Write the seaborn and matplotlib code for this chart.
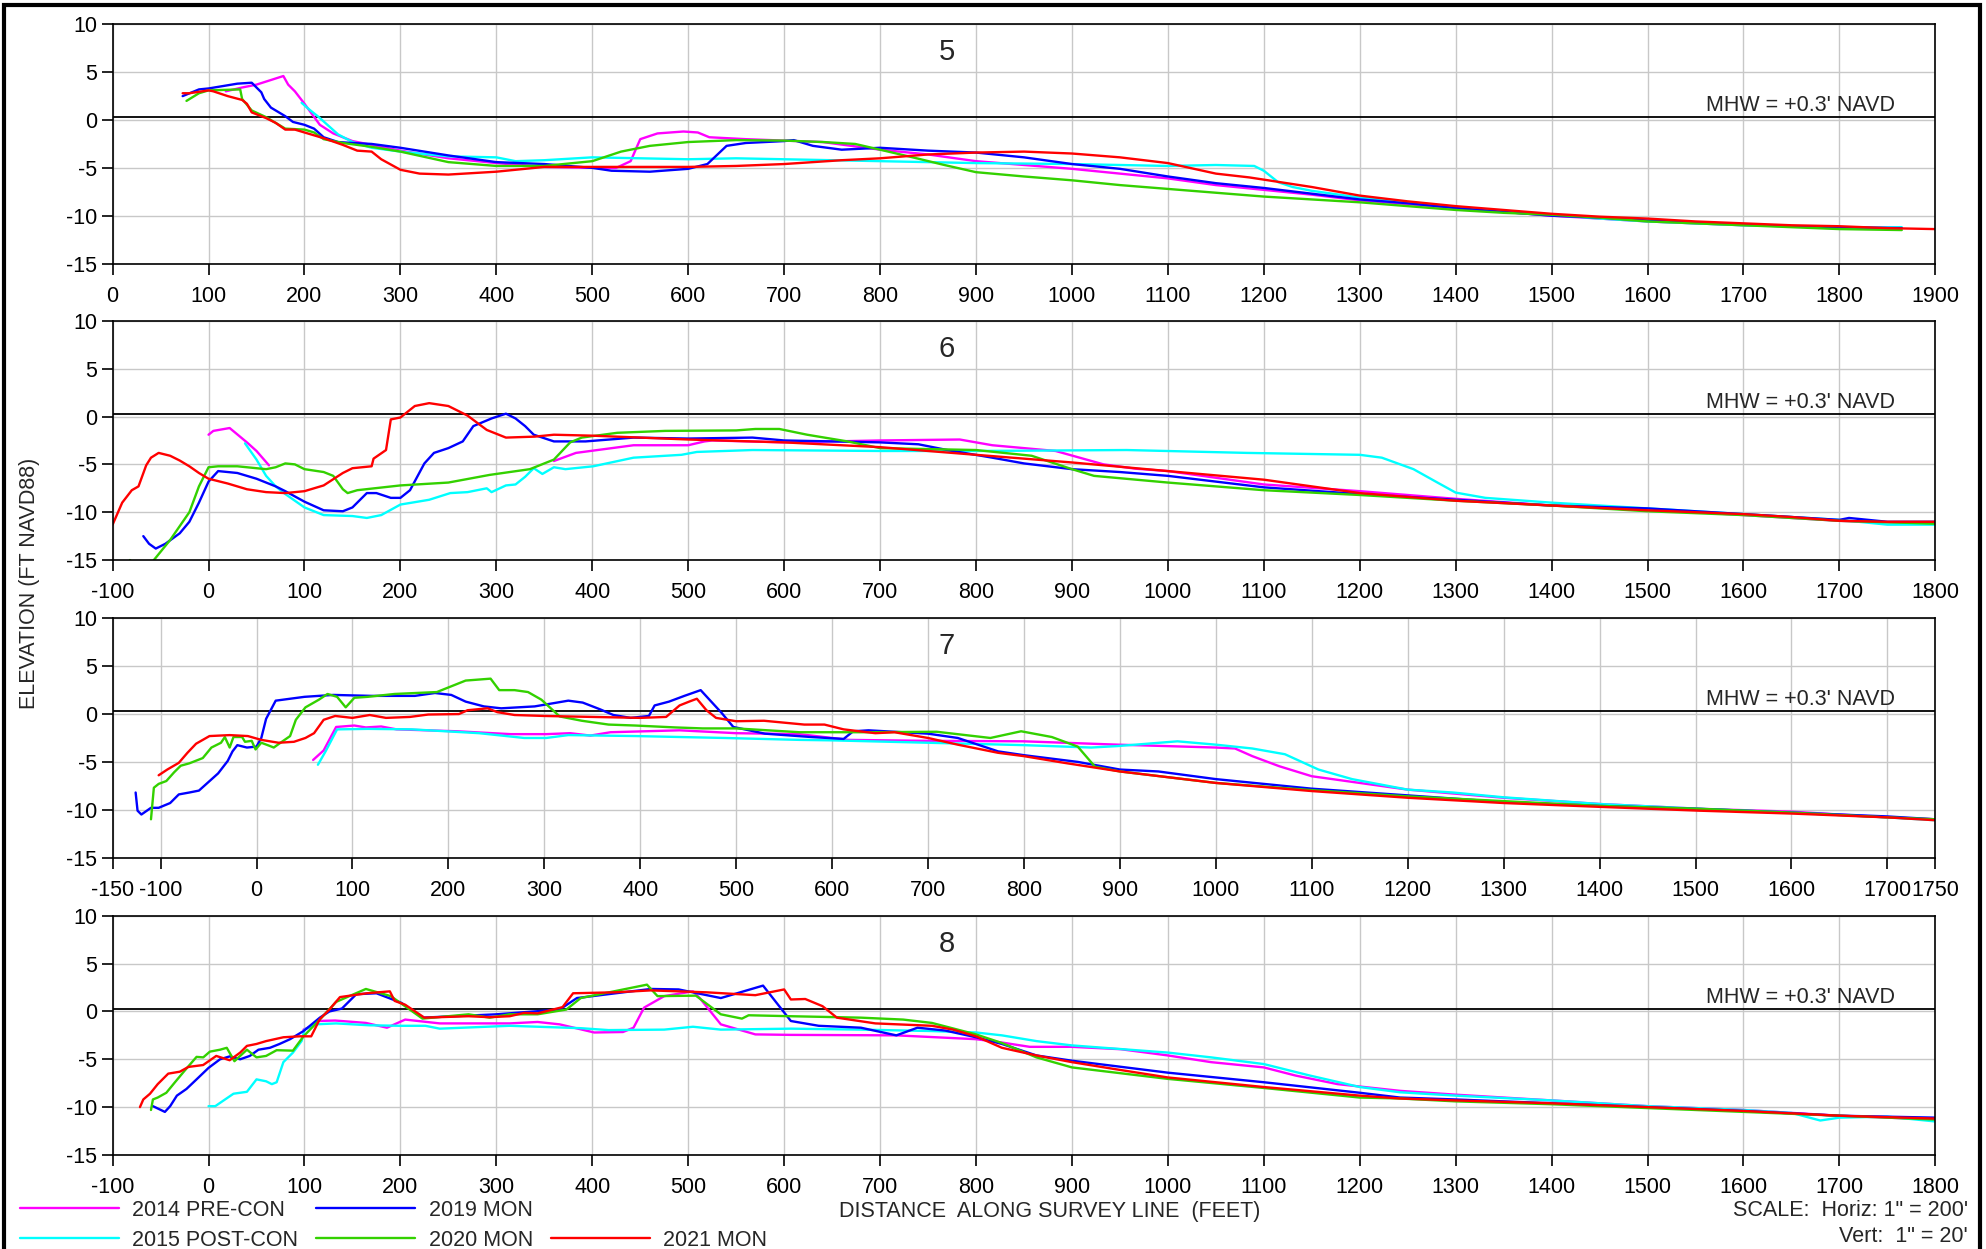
import numpy as np
import pandas as pd
import matplotlib
matplotlib.use("Agg")
import matplotlib.pyplot as plt
from matplotlib.lines import Line2D
from matplotlib.patches import Rectangle
import seaborn as sns

# survey names and colours
surveys = ["2014 PRE-CON", "2015 POST-CON", "2019 MON", "2020 MON", "2021 MON"]
colors = ["#ff00ff", "#00ffff", "#0000ff", "#33d100", "#ff0000"]

# ---------------- profile 5 ----------------
p5_2014 = [[(118, 3.0), (135, 3.4), (150, 3.7), (178, 4.6), (183, 3.7), (190, 3.0), (200, 1.7), (208, 0.6),
            (216, -0.5), (230, -1.4), (250, -2.2), (270, -2.6), (300, -3.2), (350, -4.0), (400, -4.5),
            (450, -4.9), (500, -5.0), (525, -5.0), (540, -4.3), (550, -2.0), (568, -1.4), (595, -1.2),
            (610, -1.3), (622, -1.8), (660, -2.0), (700, -2.15), (740, -2.3), (800, -3.1), (850, -3.6),
            (900, -4.3), (950, -4.7), (1000, -5.1), (1050, -5.6), (1100, -6.1), (1150, -6.8), (1200, -7.3),
            (1250, -7.8), (1300, -8.4), (1350, -8.8), (1400, -9.2), (1450, -9.6), (1500, -10.0),
            (1550, -10.3), (1600, -10.6), (1650, -10.8), (1700, -11.0), (1750, -11.1), (1800, -11.3),
            (1865, -11.3)]]
p5_2015 = [[(197, 1.8), (205, 1.1), (215, 0.3), (225, -0.6), (235, -1.5), (250, -2.3), (270, -2.9),
            (300, -3.3), (350, -3.8), (400, -3.9), (420, -4.3), (450, -4.2), (500, -3.9), (550, -4.0),
            (600, -4.1), (650, -4.0), (700, -4.1), (800, -4.3), (900, -4.5), (1000, -4.6), (1100, -4.8),
            (1150, -4.7), (1190, -4.8), (1200, -5.3), (1215, -6.5), (1230, -7.0), (1250, -7.4),
            (1300, -8.1), (1350, -8.6), (1400, -9.1), (1450, -9.5), (1500, -9.9), (1550, -10.3),
            (1600, -10.6), (1650, -10.8), (1700, -11.0), (1750, -11.1), (1800, -11.3), (1865, -11.2)]]
p5_2019 = [[(73, 2.5), (90, 3.2), (100, 3.3), (130, 3.8), (145, 3.9), (155, 2.9), (158, 2.2), (165, 1.3),
            (180, 0.4), (188, -0.2), (200, -0.5), (210, -0.9), (220, -1.8), (235, -2.3), (250, -2.4),
            (270, -2.5), (300, -2.9), (350, -3.7), (400, -4.4), (450, -4.6), (500, -5.0), (520, -5.3),
            (560, -5.4), (600, -5.1), (620, -4.6), (640, -2.7), (660, -2.4), (700, -2.2), (710, -2.1),
            (730, -2.7), (760, -3.1), (800, -2.9), (850, -3.2), (900, -3.4), (950, -3.9), (1000, -4.6),
            (1050, -5.1), (1100, -5.9), (1150, -6.6), (1200, -7.1), (1250, -7.7), (1300, -8.3),
            (1350, -8.7), (1400, -9.2), (1450, -9.6), (1500, -10.0), (1550, -10.2), (1600, -10.5),
            (1650, -10.7), (1700, -10.9), (1750, -11.1), (1800, -11.2), (1865, -11.3)]]
p5_2020 = [[(77, 2.0), (90, 2.8), (100, 3.1), (133, 3.2), (135, 2.2), (145, 1.0), (160, 0.3), (175, -0.6),
            (180, -0.9), (200, -1.0), (210, -1.3), (220, -2.0), (240, -2.4), (270, -2.8), (300, -3.3),
            (350, -4.4), (400, -4.8), (450, -4.8), (500, -4.3), (530, -3.3), (560, -2.7), (600, -2.3),
            (650, -2.1), (700, -2.15), (741, -2.3), (774, -2.5), (800, -3.1), (834, -3.9), (867, -4.7),
            (900, -5.45), (950, -5.9), (1000, -6.3), (1050, -6.8), (1100, -7.2), (1150, -7.6),
            (1200, -8.0), (1250, -8.3), (1300, -8.6), (1350, -9.0), (1400, -9.4), (1450, -9.7),
            (1500, -9.9), (1550, -10.2), (1600, -10.6), (1650, -10.8), (1700, -11.0), (1750, -11.2),
            (1800, -11.4), (1865, -11.5)]]
p5_2021 = [[(73, 2.8), (80, 2.8), (100, 3.1), (105, 3.0), (120, 2.5), (135, 2.1), (140, 1.7), (145, 0.8),
            (160, 0.2), (170, -0.3), (180, -1.0), (190, -1.0), (200, -1.3), (220, -1.9), (240, -2.6),
            (255, -3.2), (270, -3.3), (280, -4.1), (300, -5.2), (320, -5.6), (350, -5.7), (400, -5.4),
            (450, -4.9), (500, -4.9), (550, -4.9), (600, -4.9), (650, -4.8), (700, -4.6), (730, -4.4),
            (760, -4.2), (800, -4.0), (850, -3.6), (900, -3.4), (950, -3.3), (1000, -3.5), (1050, -3.9),
            (1100, -4.5), (1150, -5.6), (1185, -6.0), (1250, -7.0), (1300, -7.9), (1350, -8.5),
            (1400, -9.0), (1450, -9.4), (1500, -9.8), (1550, -10.1), (1600, -10.3), (1650, -10.6),
            (1700, -10.8), (1750, -11.0), (1800, -11.1), (1850, -11.3), (1900, -11.4)]]

# ---------------- profile 6 ----------------
p6_2014 = [[(0, -1.9), (5, -1.5), (22, -1.2), (40, -2.7), (50, -3.6), (63, -5.1)],
           [(360, -4.65), (383, -3.8), (443, -3.0), (500, -3.0), (517, -2.6), (525, -2.5), (600, -2.7),
            (700, -2.5), (783, -2.4), (817, -3.0), (883, -3.6), (933, -5.0), (966, -5.45), (1000, -5.7),
            (1100, -7.1), (1200, -7.8), (1300, -8.6), (1400, -9.3), (1500, -9.7), (1600, -10.3),
            (1700, -10.9), (1800, -11.2)]]
p6_2015 = [[(38, -2.8), (50, -4.5), (60, -6.2), (70, -7.3), (80, -8.1), (100, -9.5), (120, -10.3),
            (150, -10.4), (165, -10.6), (180, -10.3), (200, -9.2), (230, -8.7), (252, -8.0), (270, -7.9),
            (290, -7.5), (295, -7.9), (310, -7.2), (320, -7.1), (330, -6.3), (339, -5.4), (348, -6.0),
            (360, -5.3), (372, -5.5), (401, -5.2), (443, -4.3), (493, -4.0), (509, -3.7), (567, -3.5),
            (700, -3.6), (800, -3.6), (957, -3.5), (1082, -3.8), (1200, -4.0), (1223, -4.3), (1256, -5.5),
            (1281, -6.9), (1300, -7.95), (1331, -8.5), (1400, -9.0), (1500, -9.6), (1600, -10.2),
            (1700, -10.8), (1750, -11.3), (1800, -11.3)]]
p6_2019 = [[(-68, -12.5), (-62, -13.3), (-55, -13.8), (-45, -13.3), (-30, -12.2), (-20, -11.0), (-10, -9.0),
            (0, -6.8), (10, -5.7), (30, -5.9), (50, -6.5), (70, -7.3), (80, -7.8), (100, -8.9), (120, -9.8),
            (140, -9.9), (150, -9.5), (165, -8.0), (175, -8.0), (190, -8.5), (200, -8.5), (210, -7.7),
            (225, -4.9), (235, -3.8), (250, -3.3), (265, -2.6), (276, -1.0), (295, -0.2), (310, 0.3),
            (320, -0.2), (330, -1.0), (339, -1.9), (360, -2.6), (393, -2.6), (443, -2.2), (500, -2.3),
            (567, -2.2), (600, -2.5), (700, -2.7), (740, -2.9), (770, -3.5), (817, -4.3), (850, -4.9),
            (900, -5.5), (950, -5.8), (1000, -6.2), (1100, -7.4), (1200, -8.1), (1300, -8.7), (1400, -9.3),
            (1500, -9.6), (1600, -10.2), (1650, -10.5), (1700, -10.8), (1710, -10.6), (1750, -11.0),
            (1800, -11.0)]]
p6_2020 = [[(-82, -15.0), (-78, -15.4), (-60, -15.5), (-57, -15.0), (-40, -12.9), (-20, -10.0), (-10, -7.3),
            (0, -5.3), (10, -5.2), (30, -5.2), (50, -5.4), (60, -5.5), (70, -5.3), (80, -4.9), (90, -5.0),
            (100, -5.5), (120, -5.8), (130, -6.2), (140, -7.6), (145, -8.0), (155, -7.7), (200, -7.2),
            (250, -6.9), (293, -6.1), (335, -5.5), (360, -4.5), (377, -2.7), (389, -2.2), (426, -1.7),
            (476, -1.5), (550, -1.45), (570, -1.3), (595, -1.3), (624, -1.9), (666, -2.6), (700, -3.3),
            (750, -3.4), (800, -3.5), (858, -4.1), (900, -5.5), (923, -6.2), (1000, -6.9), (1100, -7.7),
            (1200, -8.2), (1300, -8.8), (1400, -9.3), (1500, -9.9), (1600, -10.3), (1700, -10.9),
            (1800, -11.2)]]
p6_2021 = [[(-100, -11.3), (-90, -9.0), (-80, -7.7), (-73, -7.3), (-65, -5.1), (-60, -4.3), (-52, -3.8),
            (-40, -4.1), (-30, -4.6), (-20, -5.2), (-10, -5.9), (0, -6.5), (20, -7.0), (40, -7.6),
            (60, -7.9), (80, -8.0), (100, -7.8), (120, -7.2), (140, -5.9), (150, -5.4), (170, -5.2),
            (172, -4.4), (185, -3.5), (190, -0.3), (200, -0.1), (215, 1.1), (230, 1.4), (250, 1.1),
            (270, 0.1), (290, -1.4), (310, -2.2), (340, -2.1), (360, -1.9), (400, -2.0), (450, -2.2),
            (500, -2.4), (600, -2.7), (700, -3.2), (800, -4.0), (900, -4.8), (1000, -5.7), (1100, -6.6),
            (1200, -8.0), (1300, -8.8), (1400, -9.3), (1500, -9.8), (1550, -10.0), (1600, -10.2),
            (1650, -10.5), (1700, -10.9), (1750, -11.0), (1800, -11.0)]]

# ---------------- profile 7 ----------------
p7_2014 = [[(59, -4.8), (70, -3.8), (83, -1.35), (102, -1.2), (114, -1.4), (130, -1.3), (146, -1.6),
            (209, -1.8), (265, -2.1), (302, -2.1), (327, -2.0), (348, -2.25), (369, -1.9), (441, -1.7),
            (500, -2.0), (566, -2.1), (617, -2.7), (700, -2.8), (800, -2.85), (898, -3.2), (1000, -3.5),
            (1020, -3.6), (1038, -4.4), (1066, -5.45), (1100, -6.5), (1150, -7.2), (1200, -7.9),
            (1300, -8.75), (1400, -9.4), (1504, -9.9), (1600, -10.2), (1700, -10.8), (1750, -11.0)]]
p7_2015 = [[(64, -5.3), (72, -3.9), (84, -1.6), (116, -1.55), (162, -1.6), (232, -2.0), (279, -2.5),
            (302, -2.5), (325, -2.2), (395, -2.3), (488, -2.5), (566, -2.7), (600, -2.75), (700, -3.0),
            (800, -3.25), (870, -3.5), (897, -3.35), (960, -2.85), (1000, -3.2), (1038, -3.6),
            (1072, -4.2), (1107, -5.8), (1142, -6.8), (1200, -7.9), (1247, -8.2), (1300, -8.7),
            (1400, -9.4), (1504, -9.9), (1600, -10.3), (1700, -10.8), (1750, -11.1)]]
p7_2019 = [[(-126, -8.2), (-124, -10.1), (-120, -10.5), (-110, -9.8), (-102, -9.8), (-90, -9.3), (-81, -8.4),
            (-70, -8.2), (-60, -8.0), (-50, -7.1), (-40, -6.2), (-30, -4.9), (-25, -3.9), (-20, -3.25),
            (-10, -3.5), (0, -3.4), (5, -2.5), (10, -0.5), (20, 1.4), (50, 1.8), (80, 2.0), (120, 1.9),
            (165, 1.9), (186, 2.2), (203, 2.0), (218, 1.3), (237, 0.8), (255, 0.6), (290, 0.8), (325, 1.4),
            (340, 1.2), (358, 0.5), (372, -0.1), (390, -0.4), (409, -0.2), (415, 0.9), (430, 1.3),
            (446, 1.9), (463, 2.5), (485, 0.1), (497, -1.35), (530, -2.05), (578, -2.4), (612, -2.6),
            (622, -1.8), (638, -1.7), (700, -2.05), (731, -2.5), (773, -3.9), (800, -4.3), (856, -5.0),
            (900, -5.8), (940, -6.0), (1000, -6.8), (1100, -7.8), (1200, -8.5), (1300, -9.2), (1400, -9.6),
            (1500, -9.9), (1600, -10.3), (1700, -10.7), (1750, -11.0)]]
p7_2020 = [[(-110, -11.0), (-107, -7.7), (-102, -7.3), (-94, -7.0), (-86, -6.1), (-79, -5.4), (-70, -5.15),
            (-56, -4.6), (-47, -3.5), (-37, -3.0), (-33, -2.4), (-28, -3.5), (-24, -2.4), (-15, -2.4),
            (-12, -2.9), (-5, -2.8), (-1, -3.7), (5, -3.0), (13, -3.3), (18, -3.5), (25, -3.0), (35, -2.3),
            (41, -0.6), (51, 0.7), (65, 1.5), (74, 2.1), (84, 1.8), (93, 0.7), (102, 1.7), (116, 1.8),
            (144, 2.1), (188, 2.3), (218, 3.5), (244, 3.7), (253, 2.5), (269, 2.5), (283, 2.3), (297, 1.5),
            (316, -0.25), (339, -0.7), (367, -1.1), (395, -1.2), (437, -1.4), (465, -1.5), (500, -1.5),
            (566, -1.9), (638, -1.9), (709, -1.85), (765, -2.5), (797, -1.8), (829, -2.4), (856, -3.4),
            (874, -5.5), (900, -6.0), (1000, -7.2), (1100, -7.95), (1200, -8.6), (1300, -9.1),
            (1400, -9.6), (1504, -9.9), (1600, -10.3), (1700, -10.8), (1750, -11.0)]]
p7_2021 = [[(-102, -6.4), (-93, -5.8), (-81, -5.1), (-72, -4.05), (-63, -3.1), (-49, -2.3), (-28, -2.2),
            (-9, -2.3), (5, -2.7), (23, -3.0), (39, -2.9), (51, -2.5), (60, -2.0), (70, -0.6), (82, -0.2),
            (100, -0.4), (118, -0.1), (135, -0.4), (160, -0.3), (179, -0.05), (211, 0.0), (220, 0.4),
            (241, 0.6), (251, 0.2), (269, -0.1), (300, -0.2), (350, -0.3), (400, -0.4), (427, -0.3),
            (441, 0.9), (451, 1.3), (459, 1.6), (469, 0.4), (479, -0.4), (500, -0.75), (529, -0.7),
            (571, -1.1), (592, -1.1), (612, -1.6), (645, -2.0), (665, -1.9), (700, -2.5), (731, -3.2),
            (773, -4.05), (800, -4.4), (842, -5.1), (900, -6.0), (1000, -7.2), (1100, -8.05),
            (1200, -8.75), (1300, -9.3), (1400, -9.7), (1504, -10.1), (1600, -10.4), (1700, -10.8),
            (1750, -11.1)]]

# ---------------- profile 8 ----------------
p8_2014 = [[(99, -1.9), (106, -1.6), (113, -1.0), (132, -0.95), (164, -1.2), (186, -1.7), (205, -0.85),
            (241, -1.25), (314, -1.25), (343, -1.1), (366, -1.35), (402, -2.2), (432, -2.15), (443, -1.7),
            (454, 0.4), (475, 1.6), (505, 2.1), (512, 1.4), (534, -1.35), (570, -2.4), (607, -2.45),
            (717, -2.5), (800, -2.9), (827, -3.25), (856, -3.7), (900, -3.7), (951, -3.95), (1000, -4.6),
            (1045, -5.3), (1100, -5.85), (1133, -6.7), (1177, -7.6), (1242, -8.3), (1300, -8.7),
            (1400, -9.3), (1500, -9.9), (1600, -10.3), (1700, -10.9), (1800, -11.3)]]
p8_2015 = [[(0, -9.9), (7, -9.9), (26, -8.6), (40, -8.4), (50, -7.1), (60, -7.3), (66, -7.6), (71, -7.4),
            (78, -5.3), (88, -4.3), (97, -3.1), (100, -1.9), (111, -1.35), (133, -1.25), (168, -1.45),
            (200, -1.5), (226, -1.5), (241, -1.8), (314, -1.5), (388, -1.75), (417, -1.95), (475, -1.9),
            (505, -1.6), (534, -1.9), (607, -1.8), (680, -1.9), (754, -2.05), (800, -2.2), (827, -2.5),
            (863, -3.1), (900, -3.55), (1000, -4.3), (1045, -4.8), (1100, -5.5), (1148, -6.7),
            (1200, -7.9), (1242, -8.45), (1300, -8.8), (1400, -9.3), (1500, -9.9), (1600, -10.3),
            (1650, -10.6), (1680, -11.4), (1700, -11.1), (1750, -11.0), (1800, -11.5)]]
p8_2019 = [[(-58, -9.9), (-45.5, -10.5), (-40, -9.9), (-33, -8.8), (-23, -8.1), (-12.5, -7.1), (0, -5.9),
            (12, -5.0), (22, -4.7), (33, -5.0), (43, -4.65), (52, -4.0), (64, -3.8), (74, -3.4), (85, -2.9),
            (99, -2.05), (116, -0.65), (126, 0.0), (139, 0.3), (154, 1.8), (175, 1.9), (201, 0.9),
            (223, -0.65), (300, -0.3), (366, 0.2), (384, 1.4), (461, 2.35), (490, 2.3), (534, 1.4),
            (578, 2.7), (607, -1.0), (636, -1.5), (680, -1.7), (717, -2.5), (739, -1.7), (768, -2.0),
            (800, -2.7), (827, -3.4), (863, -4.6), (900, -5.15), (1000, -6.4), (1100, -7.4), (1200, -8.5),
            (1242, -9.0), (1300, -9.2), (1400, -9.6), (1500, -10.0), (1600, -10.4), (1700, -10.9),
            (1800, -11.1)]]
p8_2020 = [[(-60, -10.3), (-58, -9.2), (-53, -9.0), (-44, -8.5), (-35, -7.4), (-25, -6.2), (-12.5, -4.75),
            (-5.5, -4.8), (1.4, -4.2), (12, -4.0), (19, -3.8), (27, -5.2), (40, -4.0), (50, -4.8),
            (60, -4.65), (71, -4.05), (88, -4.1), (99, -2.6), (116, -0.85), (133, 1.0), (164, 2.35),
            (190, 1.6), (223, -0.75), (271, -0.3), (293, -0.65), (314, -0.3), (343, -0.3), (373, 0.2),
            (388, 1.4), (457, 2.8), (468, 1.6), (508, 1.65), (534, -0.3), (556, -0.75), (563, -0.4),
            (607, -0.5), (680, -0.65), (724, -0.85), (754, -1.2), (800, -2.4), (827, -3.3), (863, -4.8),
            (900, -5.85), (1000, -7.05), (1100, -8.0), (1200, -9.0), (1242, -9.1), (1300, -9.4),
            (1400, -9.7), (1500, -10.1), (1600, -10.5), (1700, -10.9), (1800, -11.3)]]
p8_2021 = [[(-71.5, -10.0), (-68, -9.2), (-61, -8.6), (-53, -7.6), (-42, -6.5), (-30, -6.3), (-21, -5.8),
            (-5.6, -5.6), (8, -4.65), (22, -5.1), (33, -4.3), (40, -3.6), (50, -3.4), (60, -3.1), (78, -2.7),
            (95, -2.6), (107, -2.6), (116, -0.8), (126, 0.2), (137, 1.5), (165, 1.9), (189, 2.1), (194, 1.1),
            (205, 0.7), (225, -0.65), (271, -0.5), (293, -0.6), (314, -0.5), (329, -0.15), (343, -0.2),
            (369, 0.45), (380, 1.9), (424, 2.0), (461, 2.2), (519, 2.0), (570, 1.7), (600, 2.3), (607, 1.25),
            (622, 1.3), (640, 0.55), (655, -0.65), (695, -1.25), (754, -1.5), (776, -1.9), (800, -2.6),
            (827, -3.8), (863, -4.6), (900, -5.3), (943, -6.0), (1000, -6.9), (1100, -7.9), (1200, -8.8),
            (1242, -9.1), (1300, -9.3), (1400, -9.6), (1500, -10.0), (1600, -10.4), (1700, -10.9),
            (1800, -11.2)]]

profile_names = ["5", "6", "7", "8"]
profile_data = [
    [p5_2014, p5_2015, p5_2019, p5_2020, p5_2021],
    [p6_2014, p6_2015, p6_2019, p6_2020, p6_2021],
    [p7_2014, p7_2015, p7_2019, p7_2020, p7_2021],
    [p8_2014, p8_2015, p8_2019, p8_2020, p8_2021],
]
x_limits = [(0, 1900), (-100, 1800), (-150, 1750), (-100, 1800)]
x_ticks = [list(range(0, 1901, 100)),
           list(range(-100, 1801, 100)),
           [-150] + list(range(-100, 1701, 100)) + [1750],
           list(range(-100, 1801, 100))]
y_ticks = [-15, -10, -5, 0, 5, 10]
mhw = 0.3


def to_frame(series_list):
    rows = []
    for name, segments in zip(surveys, series_list):
        for k, seg in enumerate(segments):
            for d, e in seg:
                rows.append({"survey": name, "seg": f"{name}-{k}", "dist": d, "elev": e})
    return pd.DataFrame(rows)


sns.set_theme(style="white")
plt.rcParams["font.family"] = ["Liberation Sans", "DejaVu Sans"]
plt.rcParams["axes.unicode_minus"] = False

fs = 15.5
fig = plt.figure(figsize=(19.86, 12.49), dpi=100)
palette = dict(zip(surveys, colors))

left, width = 0.0567, 0.9178
bottoms = [0.789, 0.5516, 0.3134, 0.0753]
height = 0.1915

for i in range(4):
    ax = fig.add_axes([left, bottoms[i], width, height])
    df = to_frame(profile_data[i])
    sns.lineplot(data=df, x="dist", y="elev", hue="survey", units="seg", estimator=None,
                 sort=False, palette=palette, hue_order=surveys, legend=False, lw=1.7, ax=ax)
    ax.axhline(mhw, color="black", lw=1.3, zorder=1.5)
    ax.set_xlim(*x_limits[i])
    ax.set_ylim(-15, 10)
    ax.set_xticks(x_ticks[i])
    ax.set_yticks(y_ticks)
    ax.set_xlabel("")
    ax.set_ylabel("")
    ax.grid(True, color="#c8c8c8", lw=1.0)
    ax.set_axisbelow(True)
    for s in ax.spines.values():
        s.set_color("black")
        s.set_linewidth(1.2)
    ax.tick_params(direction="out", length=8, width=1.2, labelsize=fs,
                   colors="black", bottom=True, left=True)
    ax.tick_params(axis="x", pad=8)
    ax.tick_params(axis="y", pad=3)
    ax.text(0.4577, 7.1, profile_names[i], transform=ax.get_yaxis_transform(),
            ha="center", va="center", fontsize=21)
    ax.text(0.9777, 0.9, "MHW = +0.3' NAVD", transform=ax.get_yaxis_transform(),
            ha="right", va="baseline", fontsize=fs)

fig.text(30 / 1986, 1 - 583 / 1249, "ELEVATION (FT NAVD88)", rotation=90,
         ha="center", va="center", fontsize=fs)
fig.text(1050 / 1986, 1 - 1211 / 1249, "DISTANCE  ALONG SURVEY LINE  (FEET)",
         ha="center", va="center", fontsize=fs)
fig.text(1968 / 1986, 1 - 1210 / 1249, "SCALE:  Horiz: 1\" = 200'", ha="right", va="center", fontsize=fs)
fig.text(1968 / 1986, 1 - 1236 / 1249, "Vert:  1\" = 20'", ha="right", va="center", fontsize=fs)

handles = [Line2D([], [], color=colors[0], lw=1.7),
           Line2D([], [], color=colors[1], lw=1.7),
           Line2D([], [], color=colors[2], lw=1.7),
           Line2D([], [], color=colors[3], lw=1.7),
           Line2D([], [], color="none", lw=0),
           Line2D([], [], color=colors[4], lw=1.7)]
labels = [surveys[0], surveys[1], surveys[2], surveys[3], "", surveys[4]]
fig.legend(handles, labels, ncol=3, loc="upper left", bbox_to_anchor=(19.5 / 1986, 1 - 1200 / 1249),
           frameon=False, fontsize=fs, handlelength=4.6, handletextpad=0.62, columnspacing=0.85,
           labelspacing=0.4, borderpad=0, borderaxespad=0)

fig.patches.append(Rectangle((0.002, -0.05), 0.995, 1.0456, transform=fig.transFigure,
                             fill=False, lw=3, ec="black"))

fig.savefig("out.png", dpi=100)
